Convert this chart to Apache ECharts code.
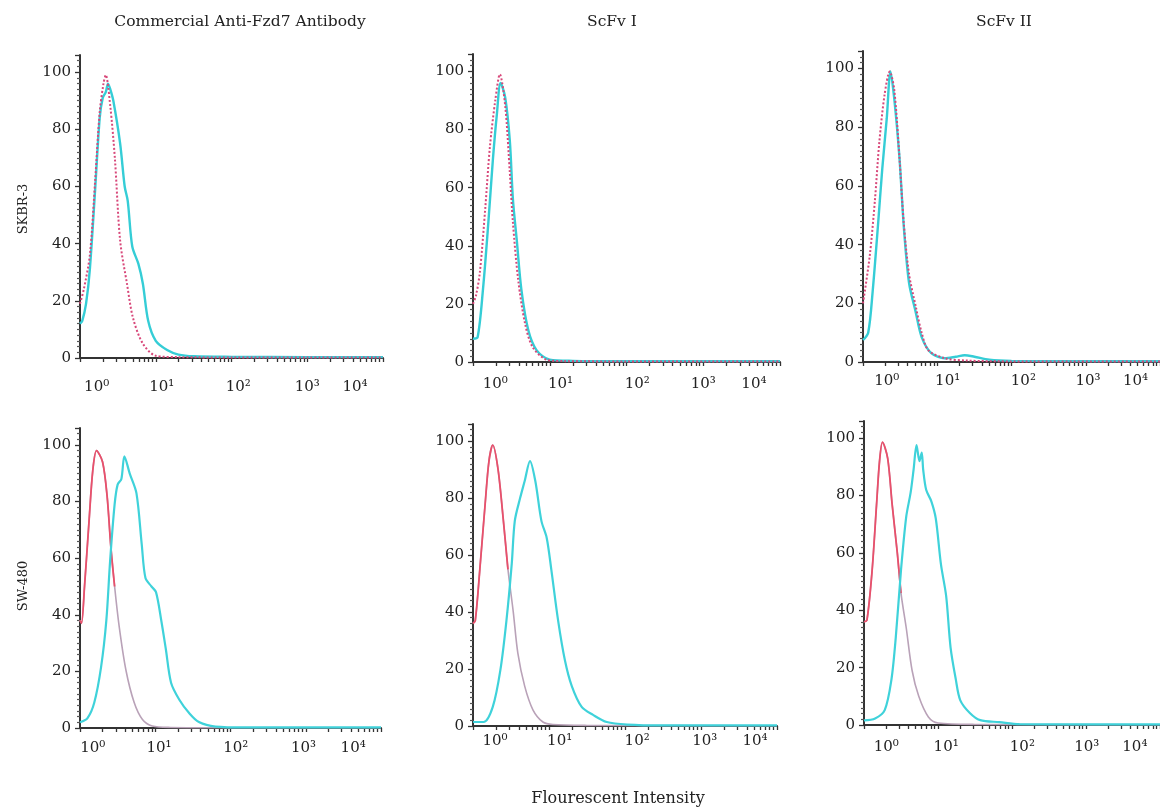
<!DOCTYPE html>
<html>
<head>
<meta charset="utf-8">
<script src="https://cdn.jsdelivr.net/npm/echarts@6/dist/echarts.min.js"></script>
<style>
html,body{margin:0;padding:0;background:#fff;}
#main{width:1160px;height:808px;}
</style>
</head>
<body>
<div id="main"></div>
<script>
// ---------------- DATA ----------------
const colTitles = ['Commercial Anti-Fzd7 Antibody', 'ScFv I', 'ScFv II'];
const rowTitles = ['SKBR-3', 'SW-480'];
const xTitle = 'Flourescent Intensity';
const xTickLabels = ['10⁰', '10¹', '10²', '10³', '10⁴'];
const yTickValues = [0, 20, 40, 60, 80, 100];
// x = log10(fluorescence intensity), y = % of max count

// SKBR-3
const skbr3CommercialControl = [[0,19],[0.05,24],[0.13,36],[0.2,62],[0.26,86],[0.31,96],[0.34,99],[0.4,88],[0.46,70],[0.53,41],[0.62,26],[0.7,14],[0.83,5],[1.0,0.8],[1.3,0.3],[2,0.2],[3,0.2],[4,0.2]];
const skbr3CommercialStained = [[0,12],[0.03,13],[0.08,19],[0.13,31],[0.2,59],[0.26,84],[0.3,91],[0.34,93],[0.37,96],[0.4,94],[0.44,90],[0.53,75],[0.59,60],[0.63,55],[0.69,39],[0.77,33],[0.83,26],[0.9,13],[1.0,6],[1.15,2.8],[1.3,1.2],[1.5,0.6],[2,0.4],[3,0.3],[4,0.3]];
const skbr3ScFv1Control = [[0,20],[0.04,23],[0.09,31],[0.16,53],[0.22,74],[0.29,90],[0.35,99],[0.42,88],[0.48,65],[0.52,48],[0.59,28],[0.68,13],[0.78,5],[0.96,0.8],[1.2,0.3],[2,0.2],[4,0.2]];
const skbr3ScFv1Stained = [[0,8],[0.06,8.5],[0.13,25],[0.2,48],[0.26,70],[0.31,85],[0.36,96],[0.42,91],[0.48,76],[0.52,56],[0.57,42],[0.63,25],[0.72,11],[0.83,4],[1.0,0.8],[1.3,0.4],[2,0.3],[4,0.3]];
const skbr3ScFv2Control = [[0,20],[0.09,36],[0.16,55],[0.22,75],[0.29,91],[0.36,99],[0.42,93],[0.49,70],[0.55,47],[0.62,30],[0.71,19],[0.79,10],[0.88,4],[1.1,1.3],[1.4,0.5],[2,0.2],[4,0.2]];
const skbr3ScFv2Stained = [[0,7.5],[0.07,10],[0.13,24],[0.2,46],[0.26,66],[0.32,83],[0.37,99],[0.42,90],[0.49,70],[0.55,46],[0.62,27],[0.71,17],[0.79,8.5],[0.92,3],[1.1,1.3],[1.25,1.8],[1.37,2.3],[1.5,1.8],[1.7,0.8],[2,0.4],[3,0.3],[4,0.3]];

// SW-480
const sw480CommercialControl = [[0,38],[0.02,37],[0.06,50],[0.12,73],[0.17,91],[0.22,98],[0.3,94],[0.36,82],[0.41,64],[0.46,50],[0.52,36],[0.61,20.5],[0.72,9],[0.83,3],[0.96,0.7],[1.2,0.2],[2,0.1],[4,0.1]];
const sw480CommercialStained = [[0,2],[0.1,3.5],[0.19,9],[0.28,21.5],[0.35,38],[0.4,59],[0.46,79],[0.5,86],[0.55,88],[0.59,96],[0.66,90],[0.75,83],[0.82,65],[0.87,53],[0.95,50],[1.01,48],[1.08,38],[1.14,28],[1.21,16],[1.32,10],[1.45,5.3],[1.58,2.1],[1.8,0.5],[2.2,0.2],[4,0.2]];
const sw480ScFv1Control = [[0,36],[0.03,37],[0.09,55],[0.16,78],[0.21,93],[0.26,98.6],[0.33,90],[0.4,72],[0.46,55],[0.53,40],[0.59,25.6],[0.68,14],[0.79,5.6],[0.92,1.4],[1.05,0.5],[1.5,0.2],[4,0.1]];
const sw480ScFv1Stained = [[0,1.5],[0.03,1.4],[0.14,1.4],[0.26,6.7],[0.36,19.6],[0.44,37],[0.51,57],[0.55,72],[0.62,80],[0.68,86],[0.75,93],[0.82,86],[0.9,72],[0.97,66],[1.03,55],[1.12,37],[1.21,23],[1.3,14],[1.43,6.7],[1.58,3.9],[1.76,1.4],[2.03,0.5],[2.5,0.2],[4,0.2]];
const sw480ScFv2Control = [[0,36],[0.04,36.6],[0.11,54],[0.17,77],[0.21,92],[0.25,98.6],[0.32,93],[0.38,77],[0.45,60],[0.5,46],[0.57,34],[0.65,19],[0.74,10],[0.87,2.8],[1.0,0.7],[1.5,0.2],[4,0.1]];
const sw480ScFv2Stained = [[0,1.6],[0.15,2.3],[0.28,5.2],[0.37,15.7],[0.43,30.7],[0.5,54],[0.57,72.5],[0.63,81],[0.67,89],[0.71,97.6],[0.75,92],[0.78,95],[0.8,89],[0.84,82],[0.91,78],[0.97,72],[1.04,56],[1.11,45],[1.17,27],[1.24,16],[1.3,8.7],[1.43,4.2],[1.57,1.7],[1.83,1],[2.1,0.3],[4,0.2]];

const panels = [
  {control: skbr3CommercialControl, stained: skbr3CommercialStained},
  {control: skbr3ScFv1Control, stained: skbr3ScFv1Stained},
  {control: skbr3ScFv2Control, stained: skbr3ScFv2Stained},
  {control: sw480CommercialControl, stained: sw480CommercialStained},
  {control: sw480ScFv1Control, stained: sw480ScFv1Stained},
  {control: sw480ScFv2Control, stained: sw480ScFv2Stained}
];

// ---------------- LAYOUT / STYLE ----------------
const FONT = 'DejaVu Serif';
const grids = [
  {left: 80,  top: 55,  width: 303, height: 303},
  {left: 473, top: 54,  width: 307, height: 308},
  {left: 863, top: 51,  width: 305, height: 311},
  {left: 80,  top: 428, width: 301, height: 300},
  {left: 473, top: 424, width: 304, height: 302},
  {left: 864, top: 421, width: 305, height: 304}
];
const labelPos = [
  [0.22, 1.08, 2.09, 3.0, 3.63],
  [0.29, 1.14, 2.14, 3.0, 3.66],
  [0.32, 1.14, 2.16, 3.03, 3.67],
  [0.17, 1.05, 2.07, 2.97, 3.63],
  [0.29, 1.14, 2.16, 3.05, 3.71],
  [0.30, 1.11, 2.14, 3.01, 3.66]
];
const labelMargin = [22, 15, 12, 13, 8, 15];
// bottom row: control curve is red up to this x, grey-violet after
const redCut = [0, 0, 0, 0.46, 0.5, 0.52];

const xTickVals = [];
for (let d = 0; d < 4; d++) {
  for (let k = 1; k <= 9; k++) xTickVals.push(d + Math.log10(k));
}
xTickVals.push(4);

const AX = '#333';
const option = {
  animation: false,
  backgroundColor: '#fff',
  grid: grids.map(g => Object.assign({containLabel: false}, g)),
  xAxis: grids.map((g, i) => ({
    gridIndex: i, type: 'value', min: 0, max: 4,
    axisLine: {show: true, onZero: false, lineStyle: {color: AX, width: 2}},
    axisTick: {show: true, customValues: xTickVals, length: 4, lineStyle: {color: AX, width: 1.3}},
    splitLine: {show: false},
    axisLabel: {
      customValues: labelPos[i], margin: labelMargin[i],
      fontFamily: FONT, fontSize: 15, color: '#222',
      formatter: v => {
        let best = 0;
        labelPos[i].forEach((p, j) => { if (Math.abs(p - v) < Math.abs(labelPos[i][best] - v)) best = j; });
        return xTickLabels[best];
      }
    }
  })),
  yAxis: grids.map((g, i) => ({
    gridIndex: i, type: 'value', min: 0, max: 106, interval: 20,
    axisLine: {show: true, lineStyle: {color: AX, width: 2}},
    axisTick: {show: true, length: 5, lineStyle: {color: AX, width: 1.3}},
    minorTick: {show: true, splitNumber: 10, length: 3, lineStyle: {color: '#555', width: 1.2}},
    splitLine: {show: false},
    axisLabel: {customValues: yTickValues, margin: 9, fontFamily: FONT, fontSize: 15, color: '#222'}
  })),
  series: [],
  graphic: []
};

panels.forEach((p, i) => {
  const top = i < 3;
  if (top) {
    option.series.push({
      type: 'line', xAxisIndex: i, yAxisIndex: i, data: p.stained,
      showSymbol: false, smooth: 0.3, z: 3,
      lineStyle: {color: '#35cdd6', width: 2.4}
    });
    option.series.push({
      type: 'line', xAxisIndex: i, yAxisIndex: i, data: p.control,
      showSymbol: false, smooth: 0.3, z: 4,
      lineStyle: {color: '#d8487a', width: 2, type: [2, 2]}
    });
  } else {
    option.series.push({
      type: 'line', xAxisIndex: i, yAxisIndex: i, data: p.control,
      showSymbol: false, smooth: 0.3, z: 2,
      lineStyle: {color: '#b9a2b8', width: 1.6}
    });
    option.series.push({
      type: 'line', xAxisIndex: i, yAxisIndex: i,
      data: p.control.filter(d => d[0] <= redCut[i]),
      showSymbol: false, smooth: 0.3, z: 2,
      lineStyle: {color: '#e9506b', width: 1.8}
    });
    option.series.push({
      type: 'line', xAxisIndex: i, yAxisIndex: i, data: p.stained,
      showSymbol: false, smooth: 0.3, z: 3,
      lineStyle: {color: '#3fd2da', width: 2.2}
    });
  }
});

const txt = (text, x, y, size, rot) => ({
  type: 'text', x: x, y: y, rotation: rot || 0,
  style: {text: text, fontFamily: FONT, fontSize: size, fill: '#222', textAlign: 'center', textVerticalAlign: 'middle'}
});
option.graphic.push(txt(colTitles[0], 240, 22, 15.5));
option.graphic.push(txt(colTitles[1], 612, 22, 15.5));
option.graphic.push(txt(colTitles[2], 1004, 22, 15.5));
option.graphic.push(txt(rowTitles[0], 24, 209, 13, Math.PI / 2));
option.graphic.push(txt(rowTitles[1], 24, 586, 13, Math.PI / 2));
option.graphic.push(txt(xTitle, 618, 799, 16));

const chart = echarts.init(document.getElementById('main'), null, {renderer: 'canvas'});
chart.setOption(option);
</script>
</body>
</html>
